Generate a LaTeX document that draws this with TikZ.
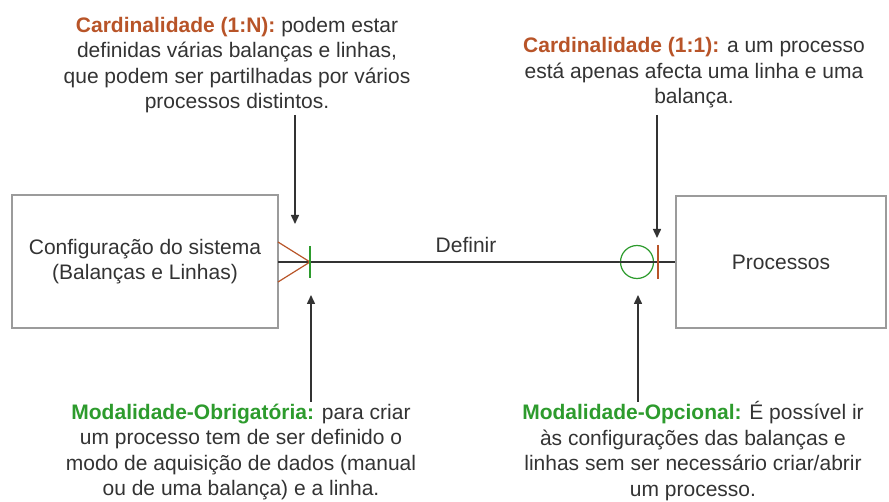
\documentclass[tikz,border=0pt]{standalone}
\usepackage{fontspec}
\setmainfont{Liberation Sans}
\usetikzlibrary{arrows.meta}
\definecolor{txt}{RGB}{51,51,51}
\definecolor{card}{RGB}{184,84,40}
\definecolor{moda}{RGB}{45,155,45}
\definecolor{boxline}{RGB}{155,155,155}
\tikzset{
  entity/.style={draw=boxline, line width=1.6pt, fill=white, inner sep=0pt, text=txt, font=\fontsize{21}{25.5}\selectfont},
  note/.style={align=center, text=txt, inner sep=0pt, font=\fontsize{21}{25.5}\selectfont},
  pointer/.style={draw=txt, line width=1.5pt, -{Triangle[length=9pt,width=8pt]}},
  relline/.style={draw=txt, line width=1.4pt},
  cardmark/.style={draw=card, line width=1.2pt},
  modmark/.style={draw=moda, line width=1.2pt},
}
\begin{document}
\begin{tikzpicture}[x=1pt,y=-1pt]
\useasboundingbox (0,0) rectangle (889,502);
% entities
\node[entity, minimum width=266pt, minimum height=133pt, align=center] (cfg) at (145,261.5)
  {Configuração do sistema\\(Balanças e Linhas)};
\node[entity, minimum width=210pt, minimum height=132pt] (proc) at (781,262) {Processos};
% relationship line
\coordinate (cfgR) at (278,262);
\draw[relline] (cfgR) -- (proc.west |- cfgR);
\node[text=txt, font=\fontsize{21}{25.5}\selectfont, inner sep=0pt] (def) at (466,245) {Definir};
% crow's foot (1:N) and mandatory bar
\coordinate (apex) at (310,262);
\coordinate (cfU) at (278,242);
\coordinate (cfD) at (278,282);
\draw[cardmark] (cfU) -- (apex) -- (cfD);
\coordinate (mbT) at (310,246);
\coordinate (mbB) at (310,278);
\draw[modmark] (mbT) -- (mbB);
% optional circle and 1:1 bar
\node[circle, draw=moda, line width=1.2pt, minimum size=33pt, inner sep=0pt, fill=white] (opt) at (637,262) {};
\draw[relline] (opt.west) -- (opt.east);
\coordinate (obT) at (658,245);
\coordinate (obB) at (658,279);
\draw[cardmark] (obT) -- (obB);
% notes
\node[note] (n1) at (237,65) {\textbf{\color{card}Cardinalidade (1:N):} podem estar\\definidas várias balanças e linhas,\\que podem ser partilhadas por vários\\processos distintos.};
\node[note] (n2) at (694,73) {\textbf{\color{card}Cardinalidade (1:1):} a um processo\\está apenas afecta uma linha e uma\\balança.};
\node[note] (n3) at (241,452) {\textbf{\color{moda}Modalidade-Obrigatória:} para criar\\um processo tem de ser definido o\\modo de aquisição de dados (manual\\ou de uma balança) e a linha.};
\node[note] (n4) at (693,451) {\textbf{\color{moda}Modalidade-Opcional:} É possível ir\\às configurações das balanças e\\linhas sem ser necessário criar/abrir\\um processo.};
% pointer arrows
\coordinate (p1s) at (295,115); \coordinate (p1e) at (295,224);
\coordinate (p2s) at (311,402); \coordinate (p2e) at (311,295);
\coordinate (p3s) at (657,115); \coordinate (p3e) at (657,238);
\coordinate (p4s) at (638,402); \coordinate (p4e) at (638,295);
\draw[pointer] (p1s) -- (p1e);
\draw[pointer] (p2s) -- (p2e);
\draw[pointer] (p3s) -- (p3e);
\draw[pointer] (p4s) -- (p4e);
\end{tikzpicture}
\end{document}
